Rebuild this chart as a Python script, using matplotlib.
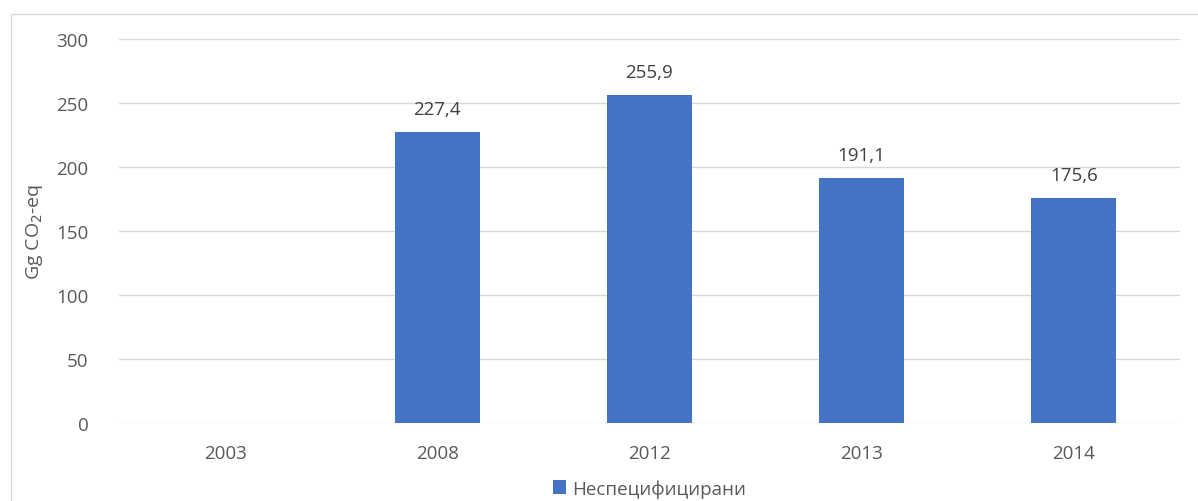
import numpy as np
import matplotlib.pyplot as plt
from matplotlib.patches import Rectangle

years = ["2003", "2008", "2012", "2013", "2014"]
values = [np.nan, 227.4, 255.9, 191.1, 175.6]
series_name = "Неспецифицирани"

plt.rcParams['font.family'] = ['Open Sans', 'DejaVu Sans']

fig = plt.figure(figsize=(11.98, 5.02), dpi=100)
ax = fig.add_axes([119 / 1198, 1 - 424 / 502, 1061 / 1198, 384 / 502])

x = np.arange(len(years))
bars = ax.bar(x, values, width=0.4, color="#4472c4", zorder=3, label=series_name)

for xi, v in zip(x, values):
    if np.isnan(v):
        continue
    ax.text(xi, v + 11, f"{v:.1f}".replace(".", ","), ha="center", va="bottom",
            fontsize=13.5, color="#404040")

ax.set_xlim(-0.5, len(years) - 0.5)
ax.set_ylim(0, 300)
ax.set_yticks(range(0, 301, 50))
ax.set_xticks(x)
ax.set_xticklabels(years)
ax.tick_params(axis="both", length=0, labelsize=13.5, labelcolor="#595959")
ax.tick_params(axis="x", pad=15)
ax.tick_params(axis="y", pad=22)
ax.grid(axis="y", color="#d9d9d9", linewidth=1, zorder=0)
for s in ax.spines.values():
    s.set_visible(False)

ax.set_ylabel("Gg CO$_2$-eq", fontsize=14, color="#595959", labelpad=2)
ax.yaxis.set_label_coords(-0.07, 0.5)

ax.legend(loc="center", bbox_to_anchor=(0.5, -0.17), frameon=False,
          fontsize=13.5, labelcolor="#595959", handlelength=0.7, handleheight=0.7,
          handletextpad=0.3)

# outer chart border
fig.patches.append(Rectangle((11 / 1198, -0.01), 1.0, 1 - 15 / 502 + 0.01,
                             transform=fig.transFigure, fill=False,
                             edgecolor="#d9d9d9", linewidth=1))

fig.savefig("out.png", dpi=100)
